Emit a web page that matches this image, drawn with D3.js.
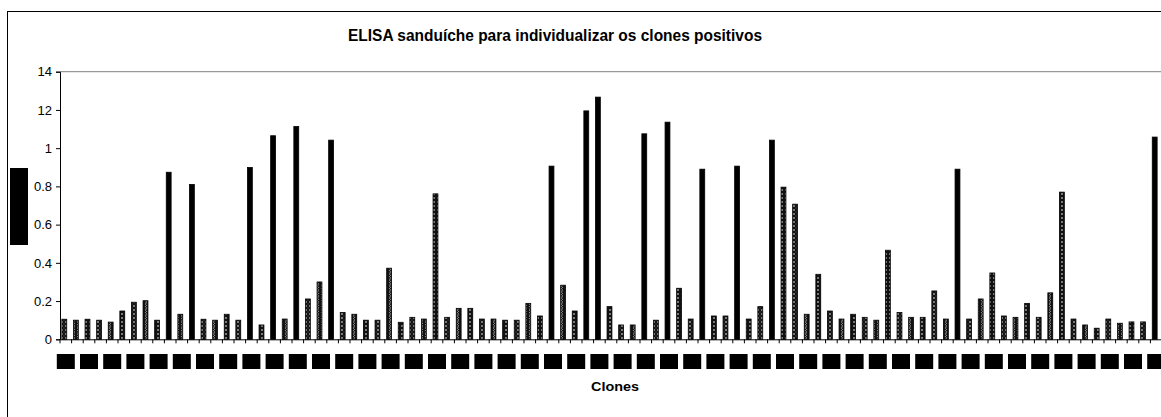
<!DOCTYPE html>
<html>
<head>
<meta charset="utf-8">
<script src="https://cdn.jsdelivr.net/npm/d3@7"></script>
<style>
  html, body { margin: 0; padding: 0; background: #fff; }
  svg { display: block; }
  text { font-family: "Liberation Sans", Arial, sans-serif; fill: #000; }
</style>
</head>
<body>
<svg id="chart" width="1161" height="417"></svg>
<script>
const title = "ELISA sanduíche para individualizar os clones positivos";
const xTitle = "Clones";
const categories = d3.range(1, 96).map(i => String(i));
const values = [
  0.105, 0.10, 0.105, 0.10, 0.09, 0.148, 0.194, 0.202, 0.10, 0.874,
  0.131, 0.81, 0.105, 0.10, 0.131, 0.10, 0.899, 0.075, 1.065, 0.106,
  1.113, 0.211, 0.30, 1.042, 0.14, 0.131, 0.10, 0.10, 0.372, 0.089,
  0.115, 0.106, 0.761, 0.115, 0.162, 0.162, 0.106, 0.106, 0.10, 0.10,
  0.188, 0.122, 0.906, 0.283, 0.148, 1.195, 1.267, 0.171, 0.075, 0.075,
  1.075, 0.10, 1.136, 0.267, 0.106, 0.89, 0.122, 0.122, 0.906, 0.106,
  0.171, 1.042, 0.796, 0.707, 0.131, 0.34, 0.148, 0.106, 0.131, 0.115,
  0.10, 0.466, 0.14, 0.115, 0.115, 0.253, 0.106, 0.89, 0.106, 0.211,
  0.347, 0.122, 0.115, 0.188, 0.115, 0.243, 0.77, 0.106, 0.075, 0.058,
  0.106, 0.084, 0.091, 0.091, 1.058
];
const yTickValues = [0, 0.2, 0.4, 0.6, 0.8, 1, 1.2, 1.4];
const yTickLabels = ["0", "0.2", "0.4", "0.6", "0.8", "1", "12", "14"];
const positiveCutoff = 0.8;

const svg = d3.select("#chart");
const plot = { left: 60, right: 1162, top: 71.7, bottom: 339.3 };

// outer chart border
svg.append("rect")
  .attr("x", 7.5).attr("y", 11.5).attr("width", 1300).attr("height", 500)
  .attr("fill", "none").attr("stroke", "#000").attr("stroke-width", 1);

// patterns
const defs = svg.append("defs");
const pCross = defs.append("pattern").attr("id", "pCross")
  .attr("patternUnits", "userSpaceOnUse").attr("width", 4).attr("height", 4);
pCross.append("rect").attr("width", 4).attr("height", 4).attr("fill", "#111");
pCross.append("path").attr("d", "M0.8,0.8 L3.2,3.2 M3.2,0.8 L0.8,3.2")
  .attr("stroke", "#aaa").attr("stroke-width", 0.7);

const pWave = defs.append("pattern").attr("id", "pWave")
  .attr("patternUnits", "userSpaceOnUse").attr("width", 4).attr("height", 6);
pWave.append("rect").attr("width", 4).attr("height", 6).attr("fill", "#111");
pWave.append("path").attr("d", "M1,0 Q3.2,1.5 2,3 Q0.8,4.5 3,6")
  .attr("stroke", "#b4b4b4").attr("stroke-width", 0.8).attr("fill", "none");

const pDot = defs.append("pattern").attr("id", "pDot")
  .attr("patternUnits", "userSpaceOnUse").attr("width", 4).attr("height", 4);
pDot.append("rect").attr("width", 4).attr("height", 4).attr("fill", "#111");
pDot.append("circle").attr("cx", 2).attr("cy", 2).attr("r", 0.9)
  .attr("fill", "#aaa");

const patternIds = ["pCross", "pWave", "pDot"];

const x = d3.scaleBand().domain(categories).range([plot.left, plot.right])
  .paddingInner(0).paddingOuter(0);
const y = d3.scaleLinear().domain([0, 1.4]).range([plot.bottom, plot.top]);

// plot area border (grey)
svg.append("line")
  .attr("x1", plot.left).attr("x2", plot.right + 10)
  .attr("y1", plot.top).attr("y2", plot.top)
  .attr("stroke", "#808080").attr("stroke-width", 1);

// bars
const bw = x.bandwidth();
svg.append("g").selectAll("rect")
  .data(values.map((v, i) => ({ c: categories[i], v, i })))
  .join("rect")
  .attr("x", d => x(d.c) + bw * 0.16)
  .attr("width", bw * 0.42)
  .attr("y", d => y(d.v))
  .attr("height", d => y(0) - y(d.v))
  .attr("fill", d => d.v >= positiveCutoff ? "#000" : `url(#${patternIds[d.i % 3]})`)
  .attr("stroke", "#000").attr("stroke-width", 0.8);

// y axis
const yAxis = d3.axisLeft(y).tickValues(yTickValues)
  .tickFormat((d, i) => yTickLabels[i]).tickSize(4).tickPadding(4);
const gy = svg.append("g").attr("transform", `translate(${plot.left},0)`).call(yAxis);
gy.select(".domain").attr("stroke", "#000");
gy.selectAll(".tick line").attr("stroke", "#000");
gy.selectAll(".tick text")
  .style("font-family", '"Liberation Sans", Arial, sans-serif')
  .style("font-size", "13px").attr("fill", "#000");

// x axis
const xAxis = d3.axisBottom(x).tickSize(0).tickFormat("");
const gx = svg.append("g").attr("transform", `translate(0,${plot.bottom})`).call(xAxis);
gx.select(".domain").attr("stroke", "#000");
gx.selectAll(".tick").remove();
gx.selectAll(".bt").data(categories.concat(["__end"]))
  .join("line")
  .attr("x1", (d, i) => plot.left + i * bw).attr("x2", (d, i) => plot.left + i * bw)
  .attr("y1", 0).attr("y2", 4).attr("stroke", "#000");

// category labels (redacted in the reference: black boxes, every other category)
const lab = svg.append("g");
categories.forEach((c, i) => {
  if (i % 2 !== 0) return;
  const cx = x(c) + bw / 2;
  lab.append("rect").attr("x", cx - 9).attr("y", 354).attr("width", 18).attr("height", 15)
    .attr("fill", "#000");
  const t = lab.append("text").attr("y", 365).attr("text-anchor", "middle")
    .style("font-size", "8px").attr("fill", "#000").text(c);
  t.attr("x", cx);
  const w = t.node().getComputedTextLength();
  t.attr("x", Math.min(cx, 1159 - w / 2));
});

// y axis title (redacted black box)
svg.append("rect").attr("x", 10).attr("y", 168).attr("width", 18).attr("height", 77).attr("fill", "#000");
svg.append("text").attr("transform", "translate(23,206) rotate(-90)").attr("text-anchor", "middle")
  .style("font-size", "11px").attr("fill", "#000").text("DO");

// titles
svg.append("text").attr("x", 555).attr("y", 41).attr("text-anchor", "middle")
  .attr("textLength", 414).attr("lengthAdjust", "spacingAndGlyphs")
  .style("font-size", "16px").style("font-weight", "bold").text(title);
svg.append("text").attr("x", 615).attr("y", 391).attr("text-anchor", "middle")
  .attr("textLength", 48).attr("lengthAdjust", "spacingAndGlyphs")
  .style("font-size", "13.5px").style("font-weight", "bold").text(xTitle);
</script>
</body>
</html>
